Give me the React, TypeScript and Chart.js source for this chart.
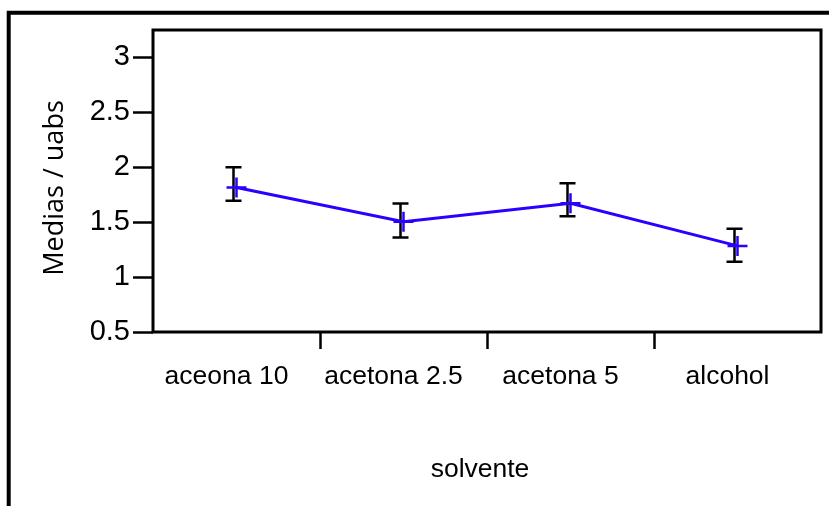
import { useEffect, useRef } from 'react';
import { Chart, registerables } from 'chart.js';

Chart.register(...registerables);

const categories = ['aceona 10', 'acetona 2.5', 'acetona 5', 'alcohol'];
const means = [1.815, 1.505, 1.673, 1.284];
const errHigh = [2.0, 1.67, 1.855, 1.44];
const errLow = [1.695, 1.36, 1.555, 1.14];
const yMin = 0.5;
const yMax = 3.25;
const yStep = 0.25;
const yLabelStep = 0.5;
const yTitle = 'Medias / uabs';
const xTitle = 'solvente';

const SANS = '"Liberation Sans", Arial, sans-serif';

const isMajor = (v: number) => Math.abs(v / yLabelStep - Math.round(v / yLabelStep)) < 1e-6;

const patchTitle = (scale: any, dx: number, dy: number) => {
  if (!scale || scale.__patched) return;
  const orig = scale.drawTitle;
  scale.drawTitle = function (...args: any[]) {
    const c = this.ctx;
    c.save();
    c.translate(dx, dy);
    orig.apply(this, args);
    c.restore();
  };
  scale.__patched = true;
};

const framePlugin = {
  id: 'framePlugin',
  beforeDraw(chart: any) {
    const { ctx } = chart;
    patchTitle(chart.scales.y, 0, 7);
    patchTitle(chart.scales.x, -7, 0);
    ctx.save();
    ctx.fillStyle = '#ffffff';
    ctx.fillRect(0, 0, chart.width, chart.height);
    ctx.restore();
  },
  beforeDatasetsDraw(chart: any) {
    const { ctx } = chart;
    const xs = chart.scales.x;
    const ys = chart.scales.y;
    ctx.save();
    ctx.strokeStyle = '#000000';
    ctx.lineWidth = 2.5;
    for (let i = 0; i < categories.length; i++) {
      const px = xs.getPixelForValue(i) - 3;
      const top = ys.getPixelForValue(errHigh[i]);
      const bot = ys.getPixelForValue(errLow[i]);
      ctx.beginPath();
      ctx.moveTo(px, top);
      ctx.lineTo(px, bot);
      ctx.moveTo(px - 8, top);
      ctx.lineTo(px + 8, top);
      ctx.moveTo(px - 8, bot);
      ctx.lineTo(px + 8, bot);
      ctx.stroke();
    }
    ctx.restore();
  },
  afterDraw(chart: any) {
    const { ctx, chartArea: a } = chart;
    const xs = chart.scales.x;
    const ys = chart.scales.y;
    ctx.save();
    ctx.strokeStyle = '#000000';
    ctx.lineWidth = 4;
    ctx.beginPath();
    ctx.moveTo(8.7, chart.height + 10);
    ctx.lineTo(8.7, 12.7);
    ctx.lineTo(chart.width + 10, 12.7);
    ctx.stroke();
    ctx.lineWidth = 3;
    ctx.strokeRect(a.left, a.top, a.right - a.left, a.bottom - a.top);
    ctx.lineWidth = 2.5;
    ys.ticks.forEach((t: any) => {
      const py = Math.round(ys.getPixelForValue(t.value)) + 0.5;
      const len = isMajor(t.value) ? 20 : 11;
      ctx.beginPath();
      ctx.moveTo(a.left - len, py);
      ctx.lineTo(a.left, py);
      ctx.stroke();
    });
    for (let i = 0; i < categories.length - 1; i++) {
      const px = Math.round((xs.getPixelForValue(i) + xs.getPixelForValue(i + 1)) / 2) + 0.5;
      ctx.beginPath();
      ctx.moveTo(px, a.bottom);
      ctx.lineTo(px, a.bottom + 17);
      ctx.stroke();
    }
    ctx.restore();
  },
};

export default function App() {
  const ref = useRef<HTMLCanvasElement>(null);
  useEffect(() => {
    document.body.style.margin = '0';
    const canvas = ref.current;
    if (!canvas) return;
    const chart = new Chart(canvas, {
      type: 'line',
      data: {
        labels: categories,
        datasets: [
          {
            data: means,
            borderColor: '#2a00ff',
            backgroundColor: '#2a00ff',
            borderWidth: 3,
            pointStyle: 'cross',
            pointRadius: 10,
            pointBorderWidth: 2.5,
            pointBorderColor: '#2a00ff',
            tension: 0,
            fill: false,
          },
        ],
      },
      options: {
        responsive: false,
        animation: false,
        devicePixelRatio: 1,
        layout: { autoPadding: false, padding: { top: 30, right: 8, left: 0, bottom: 0 } },
        plugins: {
          legend: { display: false },
          tooltip: { enabled: false },
        },
        scales: {
          x: {
            type: 'category',
            offset: true,
            afterFit: (s: any) => {
              s.height = 174;
              s.paddingLeft = 0;
              s.paddingRight = 0;
            },
            border: { display: false },
            grid: {
              offset: true,
              drawOnChartArea: false,
              drawTicks: true,
              tickLength: 17,
              tickColor: 'rgba(0,0,0,0)',
            },
            ticks: {
              color: '#000000',
              font: { family: SANS, size: 26.5 },
              padding: 12,
              labelOffset: -10,
              maxRotation: 0,
              autoSkip: false,
            },
            title: {
              display: true,
              text: xTitle,
              color: '#000000',
              font: { family: SANS, size: 26.5 },
              padding: { top: 0, bottom: 20 },
            },
          },
          y: {
            type: 'linear',
            min: yMin,
            max: yMax,
            afterFit: (s: any) => {
              s.width = 153;
              s.paddingTop = 0;
              s.paddingBottom = 0;
            },
            border: { display: false },
            grid: {
              drawOnChartArea: false,
              drawTicks: true,
              tickLength: 20,
              tickColor: 'rgba(0,0,0,0)',
            },
            ticks: {
              stepSize: yStep,
              color: '#000000',
              font: { family: SANS, size: 29 },
              padding: 3,
              callback: (v: any) => (isMajor(Number(v)) ? String(Number(v)) : ''),
            },
            title: {
              display: true,
              text: yTitle,
              color: '#000000',
              font: { family: '"Open Sans", sans-serif', size: 27 },
              padding: { top: 39, bottom: 0 },
            },
          },
        },
      },
      plugins: [framePlugin],
    });
    return () => chart.destroy();
  }, []);
  return <canvas ref={ref} width={829} height={506} style={{ display: 'block', width: 829, height: 506 }} />;
}
